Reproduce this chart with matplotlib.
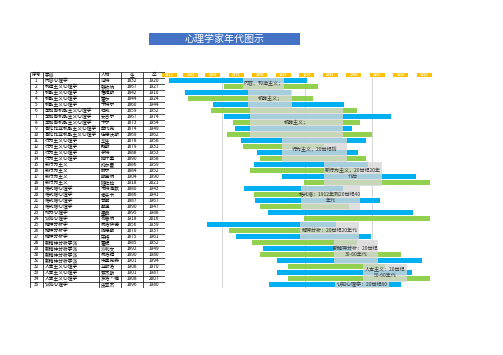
import matplotlib
matplotlib.use("Agg")
import matplotlib.pyplot as plt
from matplotlib.patches import Rectangle

plt.rcParams['font.family'] = ['Noto Sans CJK SC', 'DejaVu Sans']

title = "心理学家年代图示"
headers = ["序号", "学派", "人物", "生", "卒"]
schools = ["内容心理学", "构造主义心理学", "机能主义心理学", "机能主义心理学", "机能主义心理学",
           "芝加哥机能主义心理学", "芝加哥机能主义心理学", "芝加哥机能主义心理学",
           "哥伦比亚机能主义心理学", "哥伦比亚机能主义心理学",
           "行为主义心理学", "行为主义心理学", "行为主义心理学", "行为主义心理学",
           "新行为主义", "新行为主义", "新行为主义", "新行为主义",
           "格式塔心理学", "格式塔心理学", "格式塔心理学", "格式塔心理学",
           "动力心理学", "认知心理学",
           "精神分析学", "精神分析学", "精神分析学",
           "新精神分析学派", "新精神分析学派", "新精神分析学派", "新精神分析学派",
           "人本主义心理学", "人本主义心理学", "人本主义心理学", "认知心理学"]
names = ["冯特", "铁钦纳", "詹姆斯", "霍尔", "卡特尔", "杜威", "安吉尔", "卡尔", "桑代克", "伍德沃斯",
         "华生", "魏斯", "亨特", "拉什里", "托尔曼", "赫尔", "斯金纳", "班杜拉",
         "韦特海默", "考夫卡", "苛勒", "勒温", "墨菲", "布鲁纳",
         "弗洛伊德", "阿德勒", "荣格", "霍妮", "沙利文", "弗洛姆", "埃里克森",
         "马斯洛", "罗杰斯", "罗洛·梅", "皮亚杰"]
born = [1832, 1867, 1842, 1844, 1860, 1859, 1867, 1873, 1874, 1869,
        1878, 1879, 1888, 1890, 1886, 1884, 1904, 1918,
        1880, 1886, 1887, 1890, 1895, 1918,
        1856, 1870, 1875, 1885, 1892, 1890, 1901,
        1908, 1901, 1908, 1896]
died = [1920, 1927, 1910, 1924, 1944, 1952, 1974, 1954, 1949, 1962,
        1958, 1931, 1953, 1958, 1959, 1952, 1990, 2021,
        1943, 1941, 1967, 1947, 1988, 2016,
        1939, 1937, 1961, 1952, 1949, 1980, 1994,
        1970, 1987, 2007, 1980]
year_ticks = [1832, 1846, 1860, 1875, 1890, 1905, 1920, 1935, 1950, 1965, 1980, 1995]
grid_years = [1866, 1919, 1962]
notes = [("内容、构造主义；", 1879.3, 1905.5, 1, 2),
         ("机能主义；", 1882.5, 1910.6, 3, 5),
         ("机能主义；", 1883.8, 1943.2, 6, 10),
         ("行为主义，20世纪初", 1904.2, 1945.7, 11, 14),
         ("新行为主义，20世纪20年\n代后", 1931, 1968, 15, 18),
         ("格式塔：1912年到20世纪40\n年代", 1916.3, 1954, 19, 22),
         ("精神分析：20世纪20年代", 1915.7, 1953.4, 25, 27),
         ("新精神分析：20世纪\n30-60年代", 1937.4, 1965.5, 28, 31),
         ("人本主义：20世纪\n50-60年代", 1956, 1984, 32, 34),
         ("认知心理学：20世纪60", 1938, 1972.6, 35, 35)]

W, H = 503, 355
fig = plt.figure(figsize=(W / 100, H / 100), dpi=100)
fig.patch.set_facecolor('white')

# title bar
fig.patches.append(Rectangle((149 / W, 1 - 45 / H), 151 / W, 11.7 / H,
                             transform=fig.transFigure, fc='#4472C4', ec='none'))
fig.text(224.5 / W, 1 - 39.2 / H, title, color='white', fontsize=7.2,
         ha='center', va='center')

n = len(names)
top_px, bot_px = 71.7, 287.7
bottom = (H - bot_px) / H
height = (bot_px - top_px) / H

# table on the left
tab = fig.add_axes([29.7 / W, bottom, 135 / W, height])
tab.set_xlim(0, 135)
tab.set_ylim(n + 0.5, -0.5)
tab.axis('off')
cols = [0, 13.3, 69.3, 91.6, 113.3, 135]
tab.hlines([k - 0.5 for k in range(n + 2)], 0, 135, color='black', lw=0.5)
tab.vlines(cols, -0.5, n + 0.5, color='black', lw=0.5)
fs = 3.4
for j, h in enumerate(headers):
    if j in (1, 2):
        tab.text(cols[j] + 1.5, 0, h, fontsize=fs, ha='left', va='center')
    else:
        tab.text((cols[j] + cols[j + 1]) / 2, 0, h, fontsize=fs, ha='center', va='center')
for i in range(n):
    r = i + 1
    tab.text((cols[0] + cols[1]) / 2, r, str(r), fontsize=fs, ha='center', va='center')
    tab.text(cols[1] + 1.5, r, schools[i], fontsize=fs, ha='left', va='center')
    tab.text(cols[2] + 1.5, r, names[i], fontsize=fs, ha='left', va='center')
    tab.text((cols[3] + cols[4]) / 2, r, str(born[i]), fontsize=fs, ha='center', va='center')
    tab.text((cols[4] + cols[5]) / 2, r, str(died[i]), fontsize=fs, ha='center', va='center')

# timeline chart on the right
ax = fig.add_axes([165 / W, bottom, 265 / W, height])
ax.set_xlim(1829.4, 1998.8)
ax.set_ylim(n + 0.5, -0.5)
ax.axis('off')

ax.vlines(grid_years[0], 0.3, n + 0.5, color='#d9d9d9', lw=0.8, zorder=1)
ax.vlines(grid_years[1], 0.3, n + 0.5, color='#c5d9ea', lw=0.8, zorder=1)
ax.vlines(grid_years[2], 0.3, n + 0.5, color='#d9d9d9', lw=0.8, zorder=1)

rows = list(range(1, n + 1))
colors = ['#00B0F0' if r % 2 == 1 else '#92D050' for r in rows]
ax.barh(rows, [d - b for b, d in zip(born, died)], left=born, height=0.92,
        color=colors, zorder=2)

for y in year_ticks:
    ax.add_patch(Rectangle((y - 4.8, -0.36), 9.6, 0.72, fc='#FFC000', ec='none',
                           clip_on=False, zorder=3))
    ax.text(y, 0, str(y), color='white', fontsize=2.6, fontweight='bold',
            ha='center', va='center', clip_on=False, zorder=4)

for txt, x0, x1, r0, r1 in notes:
    ax.add_patch(Rectangle((x0, r0 - 0.5), x1 - x0, r1 - r0 + 1, fc='#d7d7d7',
                           alpha=0.78, ec='none', zorder=3))
    ax.text((x0 + x1) / 2, (r0 + r1) / 2, txt, fontsize=3.6, color='#333333',
            ha='center', va='center', multialignment='center', linespacing=1.2,
            zorder=4)

fig.savefig('out.png', dpi=100)
